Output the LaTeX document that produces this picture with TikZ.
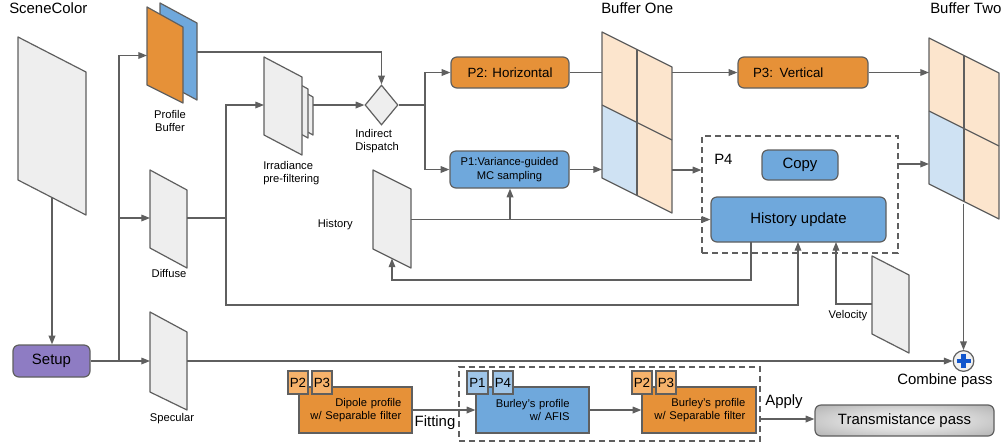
\documentclass[tikz,border=0pt]{standalone}
\usepackage{fontspec}
\setmainfont{Liberation Sans}
\usetikzlibrary{arrows.meta,shapes.geometric,calc}

\definecolor{ink}{HTML}{5F5F5F}
\definecolor{orng}{HTML}{E69138}
\definecolor{blu}{HTML}{6FA8DC}
\definecolor{purp}{HTML}{8E7CC3}
\definecolor{lorng}{HTML}{FCE5CD}
\definecolor{lblu}{HTML}{CFE2F3}
\definecolor{sheetgray}{HTML}{EEEEEE}
\definecolor{tagorng}{HTML}{F6B26B}
\definecolor{tagblu}{HTML}{9FC5E8}
\definecolor{plusblue}{HTML}{1155CC}

\pgfdeclareradialshading{transshade}{\pgfpoint{0bp}{0bp}}{%
  color(0bp)=(white!95!black); color(14bp)=(white!88!black); color(50bp)=(white!58!black)}

\newcommand\fS{\fontsize{8.4}{10.2}\selectfont}
\newcommand\fM{\fontsize{10}{12}\selectfont}
\newcommand\fL{\fontsize{11.2}{13.5}\selectfont}

% box given by its corners (x1,y1) (x2,y2) in pixel units
\newcommand\boxnode[7][]{%
  \pgfmathsetmacro\bxw{(#5-#3)*0.75}%
  \pgfmathsetmacro\bxh{(#6-#4)*0.75}%
  \node[#1,minimum width=\bxw pt,minimum height=\bxh pt] (#2) at ({(#3+#5)/2},{(#4+#6)/2}) {#7};}

% 2x2 buffer grid, drawn in local coordinates
\newcommand\bufgrid{%
  \fill[lorng] (0,0)--(35,17.5)--(35,90.5)--(0,73)--cycle;
  \fill[lorng] (35,17.5)--(70,35)--(70,108)--(35,90.5)--cycle;
  \fill[lblu] (0,73)--(35,90.5)--(35,163.5)--(0,146)--cycle;
  \fill[lorng] (35,90.5)--(70,108)--(70,181)--(35,163.5)--cycle;
  \draw[wire,line join=round] (0,0)--(70,35)--(70,181)--(0,146)--cycle;
  \draw[wire] (35,17.5)--(35,163.5);
  \draw[wire] (0,73)--(70,108);}

\tikzset{
  wire/.style={draw=ink,line width=0.9pt},
  arr/.style={wire,-{Triangle[length=6.5pt,width=5pt]}},
  sheet/.style={draw=ink,line width=0.9pt,fill=sheetgray,line join=round},
  pass/.style={draw=ink,line width=0.9pt,rounded corners=4.5pt,inner sep=2pt,align=center},
  flat/.style={draw=ink,line width=0.9pt,inner ysep=0pt,align=right},
  ptag/.style={draw=ink,line width=0.9pt,inner sep=0pt,font=\fM},
  grp/.style={draw=ink,line width=0.9pt,dash pattern=on 4.5pt off 3pt},
  txt/.style={inner sep=0pt,align=center},
}

\begin{document}
\begin{tikzpicture}[x=0.75pt,y=-0.75pt]
\useasboundingbox (0,0) rectangle (1006,444);

% ---------- textures / buffers ----------
\draw[sheet] (18,37)--(86,72)--(86,215)--(18,180)--cycle;             % SceneColor
\draw[sheet,fill=blu] (160,3)--(197,23)--(197,100)--(160,80)--cycle;  % profile buffer (back)
\draw[sheet,fill=orng] (147,7)--(183,27)--(183,103)--(147,85)--cycle; % profile buffer (front)
\draw[sheet] (297,88)--(313,97)--(313,135)--(297,126)--cycle;         % irradiance mips
\draw[sheet] (290,79)--(308,89)--(308,138)--(290,128)--cycle;
\draw[sheet] (264,57)--(302,77)--(302,155)--(264,135)--cycle;         % irradiance
\draw[sheet] (150,170)--(187,190)--(187,268)--(150,248)--cycle;       % diffuse
\draw[sheet] (150,312)--(187,332)--(187,410)--(150,392)--cycle;       % specular
\draw[sheet] (373,170)--(411,189)--(411,268)--(373,249)--cycle;       % history
\draw[sheet] (872,256)--(909,275)--(909,353)--(872,334)--cycle;       % velocity
\begin{scope}[shift={(602,32)}]\bufgrid\end{scope}                    % buffer one
\begin{scope}[shift={(929,38)}]\bufgrid\end{scope}                    % buffer two

% ---------- passes ----------
\boxnode[pass,fill=purp,font=\fL]{setup}{13}{345}{90}{377}{Setup}
\node[diamond,draw=ink,line width=0.9pt,fill=sheetgray,minimum width=24.75pt,
      minimum height=30pt,inner sep=0pt] (dispatch) at (381.5,105) {};
\boxnode[pass,fill=orng,font=\fM]{p2}{451}{57}{569}{88}{P2: Horizontal}
\boxnode[pass,fill=blu,font=\fS]{p1}{450}{151}{569}{188}{P1:Variance-guided\\MC sampling}
\boxnode[pass,fill=orng,font=\fM,text width=75pt,inner xsep=11.25pt,align=left]{p3}{738}{57}{868}{88}{P3: Vertical}
\boxnode[grp,inner sep=0pt]{p4}{702}{136}{898}{253}{}
\boxnode[pass,fill=blu,font=\fL]{copy}{762}{150}{838}{180}{Copy}
\boxnode[pass,fill=blu,font=\fL]{histupd}{711}{197}{886}{242}{History update}
\node[circle,draw=ink,line width=0.9pt,fill=white!94!black,minimum size=15.5pt,inner sep=0pt]
  (combine) at (963.5,361) {};
\draw[plusblue,line width=3.4pt] ($(combine.center)+(-7,0)$) -- ($(combine.center)+(7,0)$);
\draw[plusblue,line width=3.4pt] ($(combine.center)+(0,-7)$) -- ($(combine.center)+(0,7)$);

% ---------- profile fitting row ----------
\boxnode[grp,inner sep=0pt]{fitgrp}{459}{367}{760}{441}{}
\boxnode[flat,fill=orng,font=\fS,text width=68.75pt,inner xsep=8pt]{dipole}{299}{387}{412}{433}{Dipole profile\\w/ Separable filter}
\boxnode[flat,fill=blu,font=\fS,text width=55.75pt,inner xsep=14.5pt]{afis}{476}{387}{589}{433}{Burley's profile\\w/ AFIS}
\boxnode[flat,fill=orng,font=\fS,text width=69.5pt,inner xsep=8pt]{bsep}{642}{387}{756}{433}{Burley's profile\\w/ Separable filter}
\boxnode[ptag,fill=tagorng]{dp2}{288}{371}{308}{394}{P2}
\boxnode[ptag,fill=tagorng]{dp3}{312}{371}{332}{394}{P3}
\boxnode[ptag,fill=tagblu]{ap1}{467}{371}{488}{394}{P1}
\boxnode[ptag,fill=tagblu]{ap4}{493}{371}{513}{394}{P4}
\boxnode[ptag,fill=tagorng]{bp2}{632}{371}{652}{394}{P2}
\boxnode[ptag,fill=tagorng]{bp3}{656}{371}{676}{394}{P3}
\node[draw=ink,line width=0.9pt,rounded corners=4.5pt,shading=transshade,font=\fL,
      minimum width=134.25pt,minimum height=23.25pt] (trans) at (904.5,420.5) {Transmistance pass};

% ---------- connection points ----------
\coordinate (sc-out) at (52,197);
\coordinate (split) at (119,361);
\coordinate (pb-in) at (147,55.5);
\coordinate (pb-out) at (197,52);
\coordinate (dif-in) at (150,218);
\coordinate (dif-out) at (187,218);
\coordinate (spec-in) at (150,361);
\coordinate (spec-out) at (187,361);
\coordinate (dj) at (226,218);
\coordinate (dbot) at (226,305);
\coordinate (irr-in) at (264,105);
\coordinate (irr-out) at (313,105);
\coordinate (dsplit) at (425,105);
\coordinate (b1-in1) at (602,72.5);
\coordinate (b1-in2) at (602,169.5);
\coordinate (b1-out1) at (672,72.5);
\coordinate (b1-out2) at (672,170);
\coordinate (b2-in1) at (929,72.5);
\coordinate (b2-in2) at (929,164);
\coordinate (b2-out) at (963.5,203.5);
\coordinate (p4-out) at (898,164);
\coordinate (hist-out) at (411,219.5);
\coordinate (hist-in) at (392,258.5);
\coordinate (hj) at (510,219.5);
\coordinate (hu-out) at (751,242);
\coordinate (hloop) at (751,280);
\coordinate (hu-in1) at (798,242);
\coordinate (hu-in2) at (836,242);
\coordinate (vel-out) at (872,304);
\coordinate (grp-out) at (760,419);

% ---------- connectors ----------
\draw[arr] (sc-out) -- (sc-out |- setup.north);
\draw[wire] (setup.east) -- (split);
\draw[arr] (split) |- (pb-in);
\draw[arr] (split) |- (dif-in);
\draw[arr] (split) -- (spec-in);
\draw[arr] (pb-out) -| (dispatch.north);
\draw[wire] (dif-out) -- (dj);
\draw[arr] (dj) |- (irr-in);
\draw[arr] (dj) -- (dbot) -| (hu-in1);
\draw[arr] (irr-out) -- (dispatch.west);
\draw[wire] (dispatch.east) -- (dsplit);
\draw[arr] (dsplit) |- (p2.west);
\draw[arr] (dsplit) |- (p1.west);
\draw[wire] (p2.east) -- (b1-in1);
\draw[arr] (p1.east) -- (b1-in2);
\draw[arr] (b1-out1) -- (p3.west);
\draw[arr] (p3.east) -- (b2-in1);
\draw[arr] (b1-out2) -- (b1-out2 -| p4.west);
\draw[arr] (p4-out) -- (b2-in2);
\draw[arr] (b2-out) -- (combine.north);
\draw[arr] (spec-out) -- (combine.west);
\draw[arr] (hist-out) -- (hist-out -| histupd.west);
\draw[arr] (hj) -- (hj |- p1.south);
\draw[arr] (hu-out) -- (hloop) -| (hist-in);
\draw[arr] (vel-out) -| (hu-in2);
\draw[arr] (dipole.east) -- (afis.west);
\draw[arr] (afis.east) -- (bsep.west);
\draw[arr] (grp-out) -- (grp-out -| trans.west);

% ---------- labels ----------
\node[txt,font=\fL,anchor=base west] at (9,13) {SceneColor};
\node[txt,font=\fL,anchor=base west] at (601,13) {Buffer One};
\node[txt,font=\fL,anchor=base west] at (930,13) {Buffer Two};
\node[txt,font=\fS,anchor=north] at (170,110) {Profile\\Buffer};
\node[txt,font=\fS,anchor=north west,align=left] at (263,161) {Irradiance\\pre-filtering};
\node[txt,font=\fS,anchor=north west,align=left] at (355,129) {Indirect\\Dispatch};
\node[txt,font=\fS,anchor=north] at (169,269) {Diffuse};
\node[txt,font=\fS,anchor=north] at (172,413) {Specular};
\node[txt,font=\fS,anchor=east] at (353,225) {History};
\node[txt,font=\fS] at (848,316) {Velocity};
\node[txt,font=\fL,anchor=base west] at (714,164) {P4};
\node[txt,font=\fL] at (945,381) {Combine pass};
\node[txt,font=\fL] at (435,423) {Fitting};
\node[txt,font=\fL] at (784,402) {Apply};
\end{tikzpicture}
\end{document}
